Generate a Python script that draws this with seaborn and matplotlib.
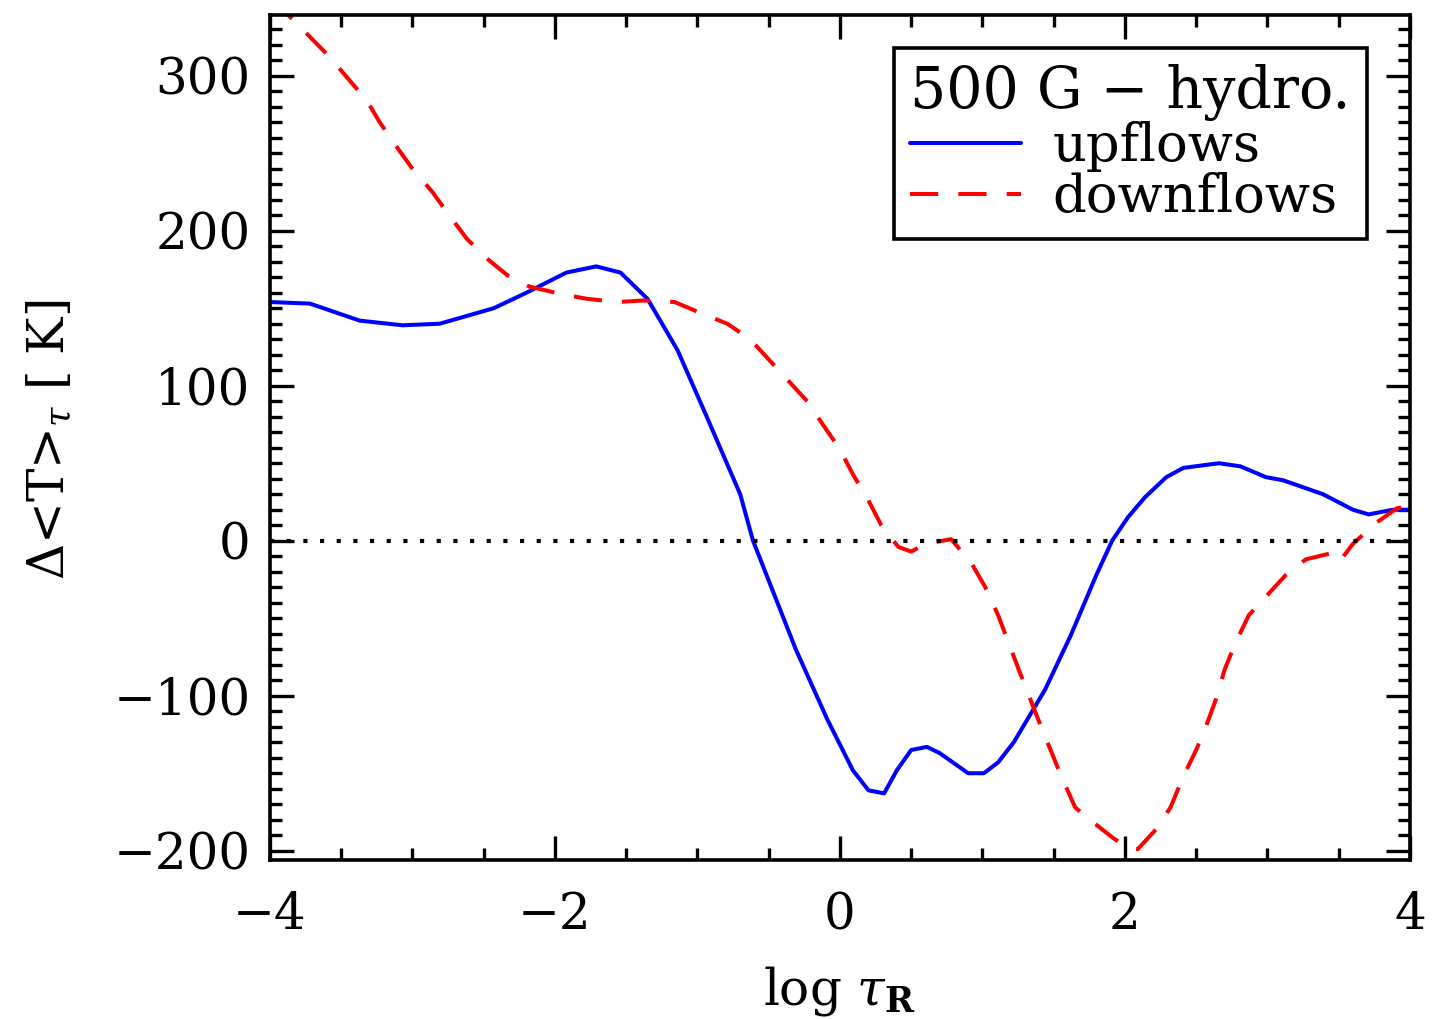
import numpy as np
import pandas as pd
import matplotlib
matplotlib.use("Agg")
import matplotlib.pyplot as plt
import seaborn as sns
from matplotlib.ticker import MultipleLocator
from matplotlib.lines import Line2D

# ---- data ----
up_x = [-4.0, -3.72, -3.37, -3.07, -2.81, -2.43, -2.20, -1.92, -1.71, -1.54, -1.35,
        -1.14, -0.93, -0.70, -0.61, -0.31, -0.09, 0.09, 0.20, 0.31, 0.40, 0.50,
        0.61, 0.70, 0.90, 1.01, 1.11, 1.22, 1.44, 1.62, 1.80, 1.91, 2.02, 2.14,
        2.29, 2.41, 2.66, 2.81, 2.99, 3.11, 3.39, 3.60, 3.71, 3.88, 4.0]
up_y = [154, 153, 142, 139, 140, 150, 160, 173, 177, 173, 156,
        123, 79, 30, 0, -70, -115, -148, -161, -163, -148, -135,
        -133, -137, -150, -150, -143, -130, -96, -61, -22, 0, 15, 28,
        41, 47, 50, 48, 41, 39, 30, 20, 17, 20, 20]

down_x = [-4.0, -3.87, -3.74, -3.58, -3.46, -3.32, -3.23, -3.11, -3.0, -2.86, -2.75,
          -2.62, -2.49, -2.33, -2.18, -1.95, -1.77, -1.56, -1.38, -1.16, -0.98,
          -0.79, -0.63, -0.37, -0.23, -0.12, 0.0, 0.09, 0.20, 0.29, 0.41, 0.50,
          0.60, 0.78, 0.92, 1.02, 1.11, 1.25, 1.39, 1.54, 1.65, 1.74, 1.92, 2.02,
          2.09, 2.23, 2.32, 2.41, 2.50, 2.58, 2.64, 2.70, 2.78, 2.87, 2.98, 3.13,
          3.27, 3.45, 3.51, 3.60, 3.77, 3.91, 4.0]
down_y = [348, 339, 327, 312, 299, 284, 270, 254, 240, 225, 211,
          195, 183, 171, 164, 159, 156, 154, 155, 154, 147,
          140, 130, 104, 90, 75, 59, 43, 26, 10, -4, -7,
          -2, 1, -14, -30, -48, -82, -115, -149, -172, -179, -192, -198,
          -199, -185, -172, -152, -135, -117, -102, -83, -65, -48, -37, -22,
          -12, -8, -13, -2, 12, 21, 22]

legend_title = "500 G \u2212 hydro."
series_names = ["upflows", "downflows"]

df = pd.concat([
    pd.DataFrame({"x": up_x, "y": up_y, "flow": series_names[0]}),
    pd.DataFrame({"x": down_x, "y": down_y, "flow": series_names[1]}),
], ignore_index=True)

sns.set_theme(style="ticks")
plt.rcParams["font.family"] = ["DejaVu Serif", "DejaVu Sans"]
plt.rcParams["mathtext.fontset"] = "dejavuserif"
for k in ["text.color", "axes.labelcolor", "xtick.color", "ytick.color", "axes.edgecolor"]:
    plt.rcParams[k] = "black"

fig = plt.figure(figsize=(14.39, 10.19), dpi=100)
ax = fig.add_axes([0.1876, 0.156, 0.7922, 0.829])

LW = 2.9
sns.lineplot(data=df, x="x", y="y", hue="flow", style="flow",
             palette={"upflows": "#0000ff", "downflows": "#ff0000"},
             dashes={"upflows": "", "downflows": (7, 5)},
             linewidth=LW, ax=ax, legend=False, sort=False, estimator=None)

ax.axhline(0, color="black", linestyle=(0, (1, 3)), linewidth=3.0)

ax.set_xlim(-4, 4)
ax.set_ylim(-206, 339)
ax.xaxis.set_major_locator(MultipleLocator(2))
ax.xaxis.set_minor_locator(MultipleLocator(0.5))
ax.yaxis.set_major_locator(MultipleLocator(100))
ax.yaxis.set_minor_locator(MultipleLocator(10))
ax.tick_params(which="both", direction="in", top=True, right=True,
               color="black", width=2.4)
ax.tick_params(which="major", length=17, labelsize=36)
ax.tick_params(axis="x", which="major", pad=22)
ax.tick_params(axis="y", which="major", pad=14)
ax.tick_params(which="minor", length=8.5)
for s in ax.spines.values():
    s.set_linewidth(2.6)
    s.set_color("black")

ax.set_xlabel(r"log $\tau_\mathbf{R}$", fontsize=36)
ax.set_ylabel(r"$\Delta$<T>$_\tau$ [ K]", fontsize=36)
ax.xaxis.set_label_coords(0.5, -0.155)
ax.xaxis.label.set_va("center")
ax.yaxis.set_label_coords(-0.193, 0.497)
ax.yaxis.label.set_va("center")

handles = [Line2D([], [], color="#0000ff", linewidth=LW),
           Line2D([], [], color="#ff0000", linewidth=LW, dashes=(7, 5))]
leg = ax.legend(handles, series_names, title=legend_title, loc="upper right",
                bbox_to_anchor=(0.962, 0.961), fontsize=38, title_fontsize=41,
                frameon=True, fancybox=False, framealpha=1, edgecolor="black",
                handlelength=2.1, handletextpad=0.6, borderpad=0.3,
                labelspacing=0.0, borderaxespad=0)
leg.get_frame().set_linewidth(2.6)
leg._legend_box.align = "left"

fig.savefig("out.png", dpi=100)
